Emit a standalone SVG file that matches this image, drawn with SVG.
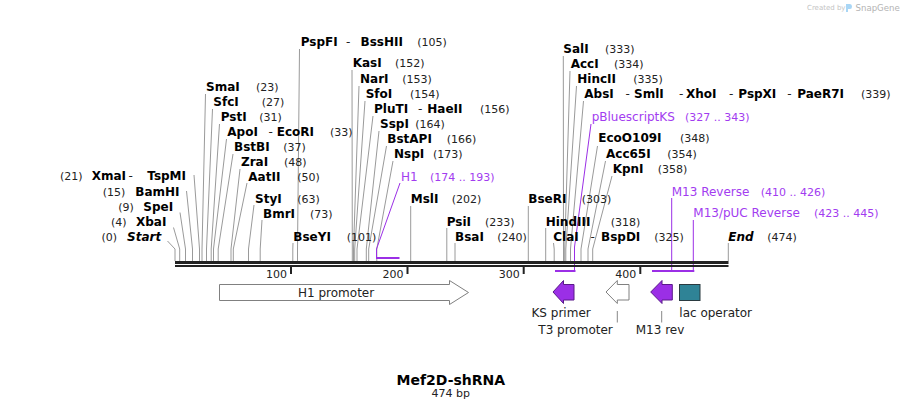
<svg xmlns="http://www.w3.org/2000/svg" width="904" height="411" viewBox="0 0 904 411">
<style>
text{font-family:"DejaVu Sans",Verdana,sans-serif}
.e{font-size:12px;font-weight:bold;fill:#000}
.it{font-style:italic}
.n{font-size:11px;fill:#222}
.d{font-size:12px;fill:#222}
.f{font-size:12px;fill:#a23cf0}
.fn{font-size:11px;fill:#a23cf0}
.lab{font-size:12px;fill:#222}
.lead{stroke:#9a9a9a;stroke-width:1;fill:none}
.plead{stroke:#9b2fe6;stroke-width:1;fill:none}
.pbar{stroke:#9b2fe6;stroke-width:2;fill:none}
.tick{fill:#222}
.pa{fill:#9b2fe6;stroke:#5a1a8a;stroke-width:1}
.wa{fill:#fff;stroke:#808080;stroke-width:1}
</style>
<rect width="904" height="411" fill="#fff"/>

<g id="watermark">
<text x="807" y="10" style="font-size:7px;fill:#c4c4c4">Created by</text>
<path d="M846,4 h4 q2,0 2,2.5 q0,2.5 -2,2.5 h-2 v3 h-2 z" fill="#a9d6f5"/>
<text x="855.5" y="11" style="font-size:8.6px;fill:#b4b4b4">SnapGene</text>
</g>

<g id="connectors">
<polyline class="lead" points="167.5,241 175,249 175,261"/>
<polyline class="lead" points="173.5,227.5 179.7,249 179.7,261"/>
<polyline class="lead" points="180,212.5 185.5,249 185.5,261"/>
<polyline class="lead" points="186.5,191 192.5,249 192.5,261"/>
<polyline class="lead" points="194,175 199.5,249 199.5,261"/>
<polyline class="lead" points="205.5,94 202,249 202,261"/>
<polyline class="lead" points="212.5,109 206.5,249 206.5,261"/>
<polyline class="lead" points="219.5,124 211.2,249 211.2,261"/>
<polyline class="lead" points="226.5,139 213.5,249 213.5,261"/>
<polyline class="lead" points="233,154 218.2,249 218.2,261"/>
<polyline class="lead" points="240,169 231,249 231,261"/>
<polyline class="lead" points="247,183 233.3,249 233.3,261"/>
<polyline class="lead" points="254,205 248.5,249 248.5,261"/>
<polyline class="lead" points="262,220 260.2,249 260.2,261"/>
<polyline class="lead" points="293,243 292.8,249 292.8,261"/>
<polyline class="lead" points="299.5,49 297.5,249 297.5,261"/>
<polyline class="lead" points="352,70 352.3,249 352.3,261"/>
<polyline class="lead" points="359,86 353.5,249 353.5,261"/>
<polyline class="lead" points="365,101 354.7,249 354.7,261"/>
<polyline class="lead" points="373,116 357,249 357,261"/>
<polyline class="lead" points="379,131 366.3,249 366.3,261"/>
<polyline class="lead" points="386.5,146 368.7,249 368.7,261"/>
<polyline class="lead" points="393,161 376.8,249 376.8,261"/>
<polyline class="lead" points="410.7,206 410.7,261"/>
<polyline class="lead" points="446.8,228 446.8,261"/>
<polyline class="lead" points="455,243 455,261"/>
<polyline class="lead" points="528.3,206 528.3,261"/>
<polyline class="lead" points="545.7,228 545.7,261"/>
<polyline class="lead" points="553.5,243 554.2,249 554.2,261"/>
<polyline class="lead" points="563.3,56 563.5,249 563.5,261"/>
<polyline class="lead" points="570,71 564.7,249 564.7,261"/>
<polyline class="lead" points="576.5,86 565.8,249 565.8,261"/>
<polyline class="lead" points="583.5,101 570.5,249 570.5,261"/>
<polyline class="lead" points="597.5,146 581,249 581,261"/>
<polyline class="lead" points="605.5,161 588,249 588,261"/>
<polyline class="lead" points="612,176 592.7,249 592.7,261"/>
<polyline class="lead" points="728.3,243 728.3,261"/>
<polyline class="plead" points="400,183 376.5,249 376.5,257"/>
<line class="pbar" x1="376" y1="258" x2="399.5" y2="258"/>
<polyline class="plead" points="591,124 574.5,247 574.5,270"/>
<line class="pbar" x1="555" y1="271" x2="575.5" y2="271"/>
<line class="plead" x1="671.7" y1="198" x2="671.7" y2="270"/>
<line class="plead" x1="693.3" y1="220" x2="693.3" y2="270"/>
<line class="pbar" x1="652" y1="271" x2="694.3" y2="271"/>
<line x1="617.3" y1="311" x2="617.3" y2="322.5" stroke="#888"/>
<line x1="661.7" y1="311" x2="661.7" y2="322.5" stroke="#888"/>
</g>

<g id="sequence">
<rect x="175" y="261" width="553.5" height="3" fill="#222"/>
<rect x="175" y="265" width="553.5" height="2" fill="#222"/>
<rect class="tick" x="290" y="267" width="2" height="7"/>
<rect class="tick" x="406.5" y="267" width="2" height="7"/>
<rect class="tick" x="522.7" y="267" width="2" height="7"/>
<rect class="tick" x="639.3" y="267" width="2" height="7"/>
<text class="n" x="287" y="277.5" text-anchor="end">100</text>
<text class="n" x="403.5" y="277.5" text-anchor="end">200</text>
<text class="n" x="519.7" y="277.5" text-anchor="end">300</text>
<text class="n" x="636.3" y="277.5" text-anchor="end">400</text>
</g>

<g id="site-start"><text class="n" x="101.5" y="241">(0)</text><text class="e it" x="127" y="241">Start</text></g>
<g id="site-xbai"><text class="n" x="111" y="225.7">(4)</text><text class="e" x="136" y="225.7">XbaI</text></g>
<g id="site-spei"><text class="n" x="118.3" y="210.7">(9)</text><text class="e" x="143.3" y="210.7">SpeI</text></g>
<g id="site-bamhi"><text class="n" x="102.7" y="195.7">(15)</text><text class="e" x="135.3" y="195.7">BamHI</text></g>
<g id="site-xmai"><text class="n" x="60" y="180">(21)</text><text class="e" x="91.7" y="180">XmaI</text><text class="d" x="128.5" y="180">-</text><text class="e" x="147.3" y="180">TspMI</text></g>
<g id="site-smai"><text class="e" x="206" y="91">SmaI</text><text class="n" x="256" y="91">(23)</text></g>
<g id="site-sfci"><text class="e" x="213.3" y="106">SfcI</text><text class="n" x="261.7" y="106">(27)</text></g>
<g id="site-psti"><text class="e" x="220.7" y="121">PstI</text><text class="n" x="259.3" y="121">(31)</text></g>
<g id="site-apoi"><text class="e" x="227.3" y="136">ApoI</text><text class="d" x="268.5" y="136">-</text><text class="e" x="276.7" y="136">EcoRI</text><text class="n" x="330" y="136">(33)</text></g>
<g id="site-bstbi"><text class="e" x="234" y="151">BstBI</text><text class="n" x="283.3" y="151">(37)</text></g>
<g id="site-zrai"><text class="e" x="241" y="166">ZraI</text><text class="n" x="284" y="166">(48)</text></g>
<g id="site-aatii"><text class="e" x="248.3" y="180.5">AatII</text><text class="n" x="297.3" y="180.5">(50)</text></g>
<g id="site-styi"><text class="e" x="255" y="202.5">StyI</text><text class="n" x="297.3" y="202.5">(63)</text></g>
<g id="site-bmri"><text class="e" x="263" y="217.5">BmrI</text><text class="n" x="310" y="217.5">(73)</text></g>
<g id="site-bseyi"><text class="e" x="293.3" y="240.7">BseYI</text><text class="n" x="346.7" y="240.7">(101)</text></g>
<g id="site-pspfi"><text class="e" x="300.7" y="46">PspFI</text><text class="d" x="346" y="46">-</text><text class="e" x="360.5" y="46">BssHII</text><text class="n" x="417.3" y="46">(105)</text></g>
<g id="site-kasi"><text class="e" x="352.7" y="67">KasI</text><text class="n" x="395" y="67">(152)</text></g>
<g id="site-nari"><text class="e" x="360" y="82.7">NarI</text><text class="n" x="402.3" y="82.7">(153)</text></g>
<g id="site-sfoi"><text class="e" x="365.7" y="97.7">SfoI</text><text class="n" x="410" y="97.7">(154)</text></g>
<g id="site-pluti"><text class="e" x="374" y="112.7">PluTI</text><text class="d" x="418" y="112.7">-</text><text class="e" x="427.3" y="112.7">HaeII</text><text class="n" x="480" y="112.7">(156)</text></g>
<g id="site-sspi"><text class="e" x="380" y="127.7">SspI</text><text class="n" x="415.3" y="127.7">(164)</text></g>
<g id="site-bstapi"><text class="e" x="387.3" y="142.7">BstAPI</text><text class="n" x="446.7" y="142.7">(166)</text></g>
<g id="site-nspi"><text class="e" x="394" y="157.7">NspI</text><text class="n" x="433" y="157.7">(173)</text></g>
<g id="feature-h1-label"><text class="f" x="401" y="180.7">H1</text><text class="fn" x="430" y="180.7">(174 .. 193)</text></g>
<g id="site-msli"><text class="e" x="410.7" y="203.3">MslI</text><text class="n" x="451.7" y="203.3">(202)</text></g>
<g id="site-psii"><text class="e" x="446.7" y="225.7">PsiI</text><text class="n" x="485" y="225.7">(233)</text></g>
<g id="site-bsai"><text class="e" x="455" y="240.7">BsaI</text><text class="n" x="497.3" y="240.7">(240)</text></g>
<g id="site-bseri"><text class="e" x="528.3" y="203.3">BseRI</text><text class="n" x="581.7" y="203.3">(303)</text></g>
<g id="site-hindiii"><text class="e" x="545.7" y="225.7">HindIII</text><text class="n" x="610.7" y="225.7">(318)</text></g>
<g id="site-clai"><text class="e" x="553.3" y="240.7">ClaI</text><text class="d" x="590.5" y="240.7">-</text><text class="e" x="601" y="240.7">BspDI</text><text class="n" x="654.3" y="240.7">(325)</text></g>
<g id="site-sali"><text class="e" x="563.3" y="52.7">SalI</text><text class="n" x="605" y="52.7">(333)</text></g>
<g id="site-acci"><text class="e" x="570.7" y="67.7">AccI</text><text class="n" x="614" y="67.7">(334)</text></g>
<g id="site-hincii"><text class="e" x="577.3" y="82.7">HincII</text><text class="n" x="633.3" y="82.7">(335)</text></g>
<g id="site-absi"><text class="e" x="584.3" y="97.7">AbsI</text><text class="d" x="625.5" y="97.7">-</text><text class="e" x="634" y="97.7">SmlI</text><text class="d" x="679" y="97.7">-</text><text class="e" x="686" y="97.7">XhoI</text><text class="d" x="729" y="97.7">-</text><text class="e" x="738.3" y="97.7">PspXI</text><text class="d" x="787.3" y="97.7">-</text><text class="e" x="797.3" y="97.7">PaeR7I</text><text class="n" x="861" y="97.7">(339)</text></g>
<g id="feature-pbluescriptks-label"><text class="f" x="591.7" y="120.7">pBluescriptKS</text><text class="fn" x="685" y="120.7">(327 .. 343)</text></g>
<g id="site-ecoo109i"><text class="e" x="598.3" y="142.3">EcoO109I</text><text class="n" x="680" y="142.3">(348)</text></g>
<g id="site-acc65i"><text class="e" x="606" y="157.7">Acc65I</text><text class="n" x="667.3" y="157.7">(354)</text></g>
<g id="site-kpni"><text class="e" x="612.7" y="172.7">KpnI</text><text class="n" x="657.7" y="172.7">(358)</text></g>
<g id="feature-m13rev-label"><text class="f" x="671.7" y="195.7">M13 Reverse</text><text class="fn" x="760.7" y="195.7">(410 .. 426)</text></g>
<g id="feature-m13puc-label"><text class="f" x="693.3" y="217.3">M13/pUC Reverse</text><text class="fn" x="814" y="217.3">(423 .. 445)</text></g>
<g id="site-end"><text class="e it" x="728.3" y="240.7">End</text><text class="n" x="767.3" y="240.7">(474)</text></g>

<g id="feature-h1-promoter">
<path class="wa" d="M219.5,284.5 H449.5 V280.5 L468.5,292.5 L449.5,304.5 V300.5 H219.5 Z"/>
<text class="lab" x="298" y="296.5">H1 promoter</text>
</g>
<g id="feature-ks-primer">
<path class="pa" d="M553,292 L563.5,280.5 V284.5 H574 V300 H563.5 V303.5 Z"/>
<text class="lab" x="531.5" y="317.3">KS primer</text>
</g>
<g id="feature-t3-promoter">
<path class="wa" d="M606,292 L617.3,280.5 V284.5 H629 V300 H617.3 V303.5 Z"/>
<text class="lab" x="538.3" y="334">T3 promoter</text>
</g>
<g id="feature-m13-rev">
<path class="pa" d="M650.7,292 L662,280.5 V284.5 H672.3 V300 H662 V303.5 Z"/>
<text class="lab" x="635.7" y="334">M13 rev</text>
</g>
<g id="feature-lac-operator">
<rect x="679.5" y="284.5" width="20.5" height="16" fill="#2f8396" stroke="#2a3a40"/>
<text class="lab" x="679.3" y="317.3">lac operator</text>
</g>

<g id="title">
<text x="450.8" y="384.5" text-anchor="middle" style="font-size:14px;font-weight:bold;fill:#000">Mef2D-shRNA</text>
<text x="450.8" y="396.7" text-anchor="middle" style="font-size:11px;fill:#222">474 bp</text>
</g>
</svg>
